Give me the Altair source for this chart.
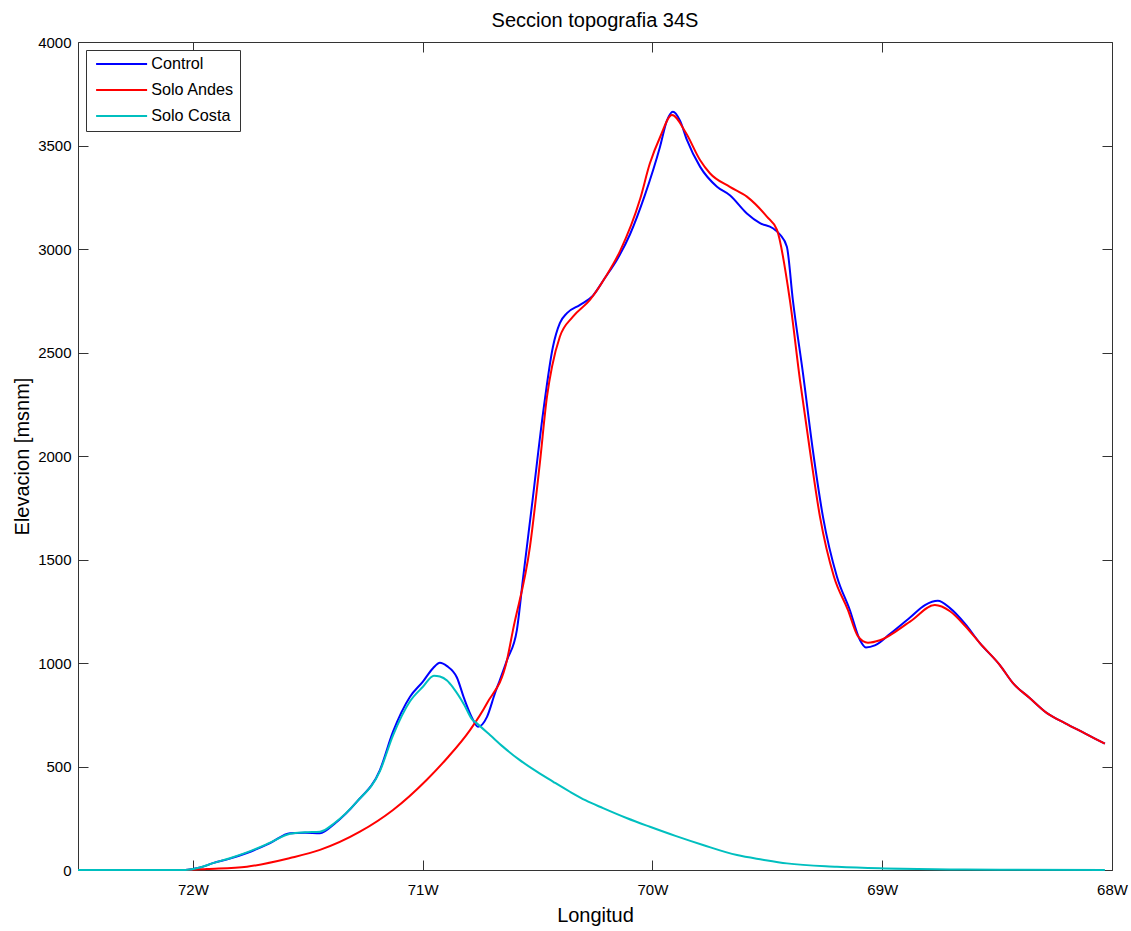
import altair as alt
import pandas as pd

series_names = ["Control", "Solo Andes", "Solo Costa"]
series_colors = ["#0000FF", "#FF0000", "#00BFBF"]

control_lon = [-72.5, -72.2, -72.034, -71.969, -71.913, -71.839, -71.765, -71.664, -71.577, -71.512,
               -71.447, -71.382, -71.286, -71.186, -71.129, -71.055, -70.999, -70.955, -70.925, -70.894,
               -70.851, -70.820, -70.785, -70.759, -70.720, -70.685, -70.664, -70.633, -70.590, -70.564,
               -70.520, -70.476, -70.433, -70.403, -70.372, -70.315, -70.259, -70.207, -70.155, -70.098,
               -70.033, -69.967, -69.937, -69.911, -69.880, -69.850, -69.793, -69.719, -69.663, -69.589,
               -69.532, -69.476, -69.445, -69.415, -69.389, -69.345, -69.302, -69.258, -69.197, -69.141,
               -69.097, -69.071, -69.032, -68.967, -68.879, -68.814, -68.758, -68.705, -68.640, -68.575,
               -68.488, -68.431, -68.357, -68.283, -68.205, -68.118, -68.031]
control_elev = [0, 0, 0, 12, 33, 55, 82, 130, 178, 180,
                178, 225, 330, 483, 668, 837, 910, 975, 1001, 985,
                930, 830, 735, 692, 740, 855, 918, 1014, 1159, 1401,
                1802, 2208, 2528, 2642, 2690, 2730, 2775, 2860, 2947, 3070,
                3260, 3494, 3620, 3663, 3620, 3527, 3398, 3301, 3260, 3172,
                3125, 3100, 3070, 3011, 2754, 2400, 2029, 1707, 1417, 1256,
                1111, 1075, 1085, 1140, 1220, 1280, 1301, 1265, 1190, 1096,
                990, 903, 830, 758, 710, 660, 610]

andes_lon = [-72.5, -72.034, -71.939, -71.765, -71.577, -71.447, -71.273, -71.129, -70.983, -70.894,
             -70.794, -70.720, -70.633, -70.607, -70.533, -70.490, -70.459, -70.437, -70.403, -70.346,
             -70.272, -70.207, -70.141, -70.054, -70.011, -69.967, -69.915, -69.854, -69.793, -69.750,
             -69.663, -69.589, -69.502, -69.458, -69.402, -69.358, -69.315, -69.271, -69.210, -69.149,
             -69.106, -69.062, -69.010, -68.879, -68.771, -68.705, -68.640, -68.575, -68.488, -68.431,
             -68.357, -68.283, -68.205, -68.118, -68.031]
andes_elev = [0, 0, 5, 16, 58, 97, 185, 290, 435, 540,
              676, 806, 1014, 1159, 1562, 1966, 2287, 2432, 2576, 2673,
              2754, 2860, 2990, 3240, 3414, 3540, 3647, 3560, 3430, 3366,
              3300, 3253, 3156, 3092, 2754, 2367, 2029, 1707, 1417, 1256,
              1130, 1098, 1110, 1200, 1280, 1250, 1180, 1096, 990, 903,
              830, 758, 710, 660, 610]

costa_lon = [-72.5, -72.034, -71.969, -71.913, -71.839, -71.765, -71.664, -71.577, -71.512, -71.447,
             -71.382, -71.286, -71.186, -71.129, -71.055, -70.999, -70.951, -70.925, -70.894, -70.867,
             -70.820, -70.785, -70.768, -70.707, -70.651, -70.580, -70.503, -70.430, -70.359, -70.290,
             -70.215, -70.110, -70.011, -69.900, -69.780, -69.632, -69.520, -69.415, -69.197, -69.010,
             -68.705, -68.488, -68.031]
costa_elev = [0, 0, 12, 33, 57, 85, 132, 175, 182, 185,
              228, 330, 478, 650, 815, 885, 939, 935, 915, 880,
              800, 728, 712, 652, 596, 533, 475, 425, 378, 336,
              299, 250, 209, 165, 121, 72, 50, 32, 16, 8,
              3, 1, 0]

x_ticks = [-72, -71, -70, -69, -68]
y_ticks = [0, 500, 1000, 1500, 2000, 2500, 3000, 3500, 4000]

rows = []
for name, lons, elevs in zip(series_names,
                             [control_lon, andes_lon, costa_lon],
                             [control_elev, andes_elev, costa_elev]):
    for i, (lo, el) in enumerate(zip(lons, elevs)):
        rows.append({"serie": name, "lon": lo, "elev": el, "i": i})
df = pd.DataFrame(rows)

FONT = "Liberation Sans"
xscale = alt.Scale(domain=[-72.5, -68], nice=False, zero=False)
yscale = alt.Scale(domain=[0, 4000], nice=False, zero=False)

lines = alt.Chart(df).mark_line(strokeWidth=2, interpolate="monotone").encode(
    x=alt.X("lon:Q", scale=xscale,
            axis=alt.Axis(title="Longitud", orient="bottom", values=x_ticks,
                          labelExpr="(-datum.value) + 'W'", offset=-10, tickSize=10,
                          domain=False, grid=False, labelFlush=False, labelPadding=12,
                          labelFontSize=15, labelFont=FONT, labelColor="#000",
                          tickColor="#333", titleFont=FONT, titleFontSize=20,
                          titleFontWeight="normal", titleColor="#000", titlePadding=8)),
    y=alt.Y("elev:Q", scale=yscale,
            axis=alt.Axis(title="Elevacion [msnm]", orient="left", values=y_ticks,
                          format="d", offset=-10, tickSize=10, domain=False, grid=False,
                          labelFlush=False, labelPadding=7, labelFontSize=15, labelFont=FONT,
                          labelColor="#000", tickColor="#333", titleFont=FONT,
                          titleFontSize=20, titleFontWeight="normal", titleColor="#000",
                          titlePadding=5)),
    color=alt.Color("serie:N",
                    scale=alt.Scale(domain=series_names, range=series_colors),
                    legend=alt.Legend(title=None, orient="none", legendX=8, legendY=8,
                                      symbolType="M-10,0H10", symbolSize=26,
                                      symbolOffset=21.5, symbolStrokeWidth=2,
                                      labelFont=FONT, labelFontSize=16.2, labelColor="#000",
                                      strokeColor="#333", fillColor="white",
                                      padding=6, rowPadding=9, labelOffset=21.5)),
    order="i:Q",
)

mirror = alt.Chart(df).mark_line(opacity=0).encode(
    x=alt.X("lon:Q", scale=xscale,
            axis=alt.Axis(title="", orient="top", values=x_ticks, labels=False,
                          offset=-10, tickSize=10, domain=False, grid=False, tickColor="#333")),
    y=alt.Y("elev:Q", scale=yscale,
            axis=alt.Axis(title="", orient="right", values=y_ticks, labels=False,
                          offset=-10, tickSize=10, domain=False, grid=False, tickColor="#333")),
)

chart = alt.layer(lines, mirror).resolve_scale(
    x="independent", y="independent"
).properties(
    width=1034,
    height=828,
    autosize=alt.AutoSizeParams(type="none"),
    padding={"left": 78, "top": 42, "right": 19, "bottom": 61},
    title=alt.TitleParams("Seccion topografia 34S", font=FONT, fontSize=20,
                          fontWeight="normal", color="#000", offset=4, anchor="middle"),
).configure(
    background="white",
    view=alt.ViewConfig(stroke="#333", strokeWidth=1),
)

chart.save("out.html", embed_options={"renderer": "svg", "actions": False})
